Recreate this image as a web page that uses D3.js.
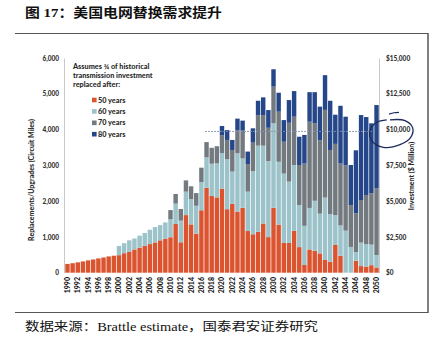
<!DOCTYPE html>
<html>
<head>
<meta charset="utf-8">
<script src="https://cdn.jsdelivr.net/npm/d3@7"></script>
<style>
  body { margin: 0; background: #fff; }
  svg text { font-family: Lato, "Open Sans", sans-serif; }
</style>
</head>
<body>
<div id="chart"></div>
<script>
const width = 438
const height = 347

// categories
const years = d3.range(1990, 2051)
const seriesNames = ["50 years", "60 years", "70 years", "80 years"]
const colors = ["#da5430", "#9cc3ca", "#737a7f", "#25478a"]

// replacements (circuit miles) per series
const red50 = [245,265,290,315,345,370,400,425,455,475,
               490,545,590,650,700,750,800,845,905,950,
               990,1360,850,1610,1350,1090,1745,2375,2145,2105,
               2350,1775,1925,1705,1815,1165,1075,1145,1375,995,
               1815,1345,830,830,1170,715,215,650,615,540,
               355,305,775,475,0,0,335,185,170,210,145]
const blue60 = [0,0,0,0,0,0,0,0,0,0,
                255,280,315,305,335,360,400,430,425,455,
                500,570,605,655,710,780,790,850,900,950,
                995,1400,900,1630,1380,1100,1765,2405,2175,2125,
                2360,1755,1940,1715,1840,1175,1095,1160,1395,1110,
                1745,1335,835,845,1175,720,240,655,630,575,350]
const gray70 = [0,0,0,0,0,0,0,0,0,0,
                0,0,0,0,0,0,0,0,0,0,
                260,270,325,315,355,355,400,425,445,480,
                500,535,605,650,775,770,795,850,855,930,
                1025,1400,890,1645,1350,1120,1740,2410,2160,2050,
                2450,1790,1990,1730,1825,1170,1085,1190,1370,1430,1860]
const navy80 = [0,0,0,0,0,0,0,0,0,0,
                0,0,0,0,0,0,0,0,0,0,
                0,0,0,0,0,0,0,0,0,0,
                255,275,280,320,280,350,400,405,495,495,
                485,530,605,635,715,790,800,825,875,940,
                970,1375,815,1615,1360,1120,1760,2375,2180,1960,2330]

// ticks
const leftTicks = [0, 1000, 2000, 3000, 4000, 5000, 6000]
const rightTicks = [0, 2500, 5000, 7500, 10000, 12500, 15000]
const refInvestment = 9870

const title = "图 17：美国电网替换需求提升"
const source = "数据来源：Brattle estimate，国泰君安证券研究"
const legendTitle = ["Assumes ¾ of historical", "transmission investment", "replaced after:"]

const rows = years.map((yr, i) => ({
  year: yr, s0: red50[i], s1: blue60[i], s2: gray70[i], s3: navy80[i]
}))
const stack = d3.stack().keys(["s0", "s1", "s2", "s3"])(rows)

const svg = d3.select("#chart")
  .append("svg")
  .attr("width", width)
  .attr("height", height)

svg.append("rect").attr("width", width).attr("height", height).attr("fill", "#fff")

// page frame
svg.append("text")
   .attr("x", 25).attr("y", 17)
   .attr("textLength", 197).attr("lengthAdjust", "spacingAndGlyphs")
   .style("font-family", "'Liberation Serif', 'Noto Sans CJK SC', serif")
   .style("font-weight", "bold")
   .style("font-size", "13px")
   .attr("fill", "#111")
   .text(title)

svg.append("line").attr("x1", 15).attr("x2", 428).attr("y1", 33.5).attr("y2", 33.5)
   .attr("stroke", "#555").attr("stroke-width", 1.2)
svg.append("line").attr("x1", 15).attr("x2", 428).attr("y1", 312.5).attr("y2", 312.5)
   .attr("stroke", "#555").attr("stroke-width", 1.2)
svg.append("line").attr("x1", 428).attr("x2", 428).attr("y1", 33).attr("y2", 313)
   .attr("stroke", "#555").attr("stroke-width", 1.5)

svg.append("text")
   .attr("x", 25).attr("y", 331)
   .attr("textLength", 293).attr("lengthAdjust", "spacingAndGlyphs")
   .style("font-family", "'Liberation Serif', 'Noto Sans CJK SC', serif")
   .style("font-size", "12px")
   .attr("fill", "#111")
   .text(source)

// scales
const x = d3.scaleBand().domain(years).range([65, 379]).paddingInner(0.14).paddingOuter(0.05)
const y = d3.scaleLinear().domain([0, 6000]).range([272.7, 58])
const y2 = d3.scaleLinear().domain([0, 15000]).range([272.7, 58])

// bars
svg.append("g")
   .selectAll("g")
   .data(stack)
   .enter()
   .append("g")
   .attr("fill", (d, i) => colors[i])
   .selectAll("rect")
   .data(d => d)
   .enter()
   .append("rect")
   .attr("x", d => x(d.data.year))
   .attr("width", x.bandwidth())
   .attr("y", d => y(d[1]))
   .attr("height", d => y(d[0]) - y(d[1]))

// left axis
const leftAxis = svg.append("g")
   .attr("transform", "translate(64,0)")
   .call(d3.axisLeft(y).tickValues(leftTicks).tickSize(0).tickPadding(5).tickFormat(d3.format(",")))
leftAxis.select(".domain").attr("stroke", "#c8c8c8")

// right axis
const rightAxis = svg.append("g")
   .attr("transform", "translate(379,0)")
   .call(d3.axisRight(y2).tickValues(rightTicks).tickSize(0).tickPadding(7)
         .tickFormat(d => "$" + d3.format(",")(d)))
rightAxis.select(".domain").attr("stroke", "#c8c8c8")

svg.selectAll(".tick text")
   .style("font-family", "Lato, sans-serif")
   .style("font-size", "6.5px")
   .style("font-weight", "900")
   .attr("fill", "#333")

// x axis labels
const xAxis = svg.append("g")
   .attr("transform", "translate(0,273)")
   .call(d3.axisBottom(x).tickValues(years.filter(d => d % 2 == 0)).tickSize(0))
xAxis.select(".domain").remove()
xAxis.selectAll("text")
   .attr("transform", "rotate(-90)")
   .attr("x", -4).attr("y", 0).attr("dy", "0.35em")
   .style("text-anchor", "end")
   .style("font-family", "Lato, sans-serif")
   .style("font-size", "7px")
   .style("font-weight", "900")
   .attr("fill", "#1a1a1a")

// axis titles
svg.append("text")
   .attr("transform", "translate(34,180) rotate(-90)")
   .style("text-anchor", "middle")
   .style("font-size", "7px")
   .style("font-weight", "900")
   .attr("fill", "#2a2a2a")
   .text("Replacements/Upgrades (Circuit Miles)")

svg.append("text")
   .attr("transform", "translate(414,176) rotate(-90)")
   .style("text-anchor", "middle")
   .style("font-size", "7px")
   .style("font-weight", "900")
   .attr("fill", "#2a2a2a")
   .text("Investment ($ Million)")

// reference dashed line
svg.append("line")
   .attr("x1", 205).attr("x2", 376)
   .attr("y1", y2(refInvestment)).attr("y2", y2(refInvestment))
   .attr("stroke", "#8393b0").attr("stroke-width", 0.9)
   .attr("stroke-dasharray", "2,1")

// legend
const legend = svg.append("g").attr("id", "legend")
legend.selectAll("text.lt")
   .data(legendTitle)
   .enter()
   .append("text")
   .attr("class", "lt")
   .attr("x", 73).attr("y", (d, i) => 69 + i * 8.8)
   .style("font-size", "7.3px")
   .style("font-weight", "900")
   .attr("fill", "#2a2a2a")
   .text(d => d)

const items = legend.selectAll("g.item")
   .data(seriesNames)
   .enter()
   .append("g")
   .attr("class", "item")
   .attr("transform", (d, i) => `translate(92,${100 + i * 11.4})`)
items.append("rect")
   .attr("x", 0).attr("y", -2.3).attr("width", 4.6).attr("height", 4.6)
   .attr("fill", (d, i) => colors[i])
items.append("text")
   .attr("x", 6).attr("y", 0).attr("dy", "0.35em")
   .style("font-size", "7.3px")
   .style("font-weight", "900")
   .attr("fill", "#2a2a2a")
   .text(d => d)

// hand drawn circle around $10,000
const cx0 = 379, cy0 = y2(10000)
const loop = [[11,-9.7],[26,-9],[33.7,-1.7],[31.7,7.7],[21,15],[4.3,17.7],[-7.3,11],[-9,1],[-2.3,-7.3],[7.7,-9.7]]
svg.append("path")
   .attr("d", d3.line().curve(d3.curveCatmullRom)(loop.map(p => [cx0 + p[0], cy0 + p[1]])))
   .attr("fill", "none").attr("stroke", "#1d2b5c").attr("stroke-width", 1.3)
svg.append("path")
   .attr("d", d3.line().curve(d3.curveCatmullRom)([[10,-15.5],[15,-16.8],[20,-17.2]].map(p => [cx0 + p[0], cy0 + p[1]])))
   .attr("fill", "none").attr("stroke", "#1d2b5c").attr("stroke-width", 1.2)
</script>
</body>
</html>
